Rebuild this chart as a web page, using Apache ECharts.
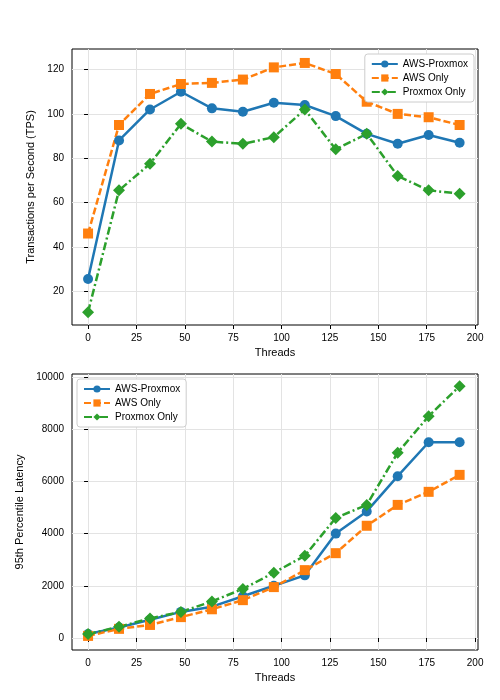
<!DOCTYPE html>
<html>
<head>
<meta charset="utf-8">
<script src="https://cdn.jsdelivr.net/npm/echarts@6/dist/echarts.min.js"></script>
<style>html,body{margin:0;padding:0;background:#fff}#chart{width:500px;height:700px}</style>
</head>
<body>
<div id="chart"></div>
<script>
var threads = [0, 16, 32, 48, 64, 80, 96, 112, 128, 144, 160, 176, 192];

var tpsAwsProxmox = [25.5, 88, 102, 110, 102.5, 101, 105, 104, 99, 91, 86.5, 90.5, 87];
var tpsAwsOnly = [46, 95, 109, 113.5, 114, 115.5, 121, 123, 118, 105.5, 100, 98.5, 95];
var tpsProxmoxOnly = [10.5, 65.5, 77.5, 95.5, 87.5, 86.5, 89.5, 102, 84, 91, 72, 65.5, 64];

var latAwsProxmox = [150, 400, 700, 1000, 1200, 1600, 2000, 2400, 4000, 4850, 6200, 7500, 7500];
var latAwsOnly = [80, 350, 500, 800, 1100, 1450, 1950, 2600, 3250, 4300, 5100, 5600, 6250];
var latProxmoxOnly = [150, 430, 750, 1000, 1400, 1880, 2500, 3150, 4600, 5100, 7100, 8500, 9650];

var xTicks = [0, 25, 50, 75, 100, 125, 150, 175, 200];
var tpsTicks = [20, 40, 60, 80, 100, 120];
var latTicks = [0, 2000, 4000, 6000, 8000, 10000];

var names = ['AWS-Proxmox', 'AWS Only', 'Proxmox Only'];
var colors = ['#1f77b4', '#ff7f0e', '#2ca02c'];
var symbols = ['circle', 'rect', 'diamond'];
var symbolSizes = [10, 10, 12];
var dashes = ['solid', [7, 3], [8, 3, 2, 3]];

function pairs(vals) {
	return threads.map(function (t, i) { return [t, vals[i]]; });
}

function plain(v) { return String(v); }

function xAxisFor(gridIndex) {
	return {
		type: 'value', gridIndex: gridIndex, min: -8.3, max: 201.5,
		name: 'Threads', nameLocation: 'middle', nameGap: 22,
		nameTextStyle: {color: '#000', fontSize: 11},
		axisLine: {show: false},
		axisTick: {show: true, inside: false, length: 4, customValues: xTicks, lineStyle: {color: '#000'}},
		axisLabel: {customValues: xTicks, color: '#000', fontSize: 10, formatter: plain},
		splitLine: {show: true, lineStyle: {color: '#e3e3e3'}}
	};
}

function yAxisFor(gridIndex, min, max, ticks, name, gap) {
	return {
		type: 'value', gridIndex: gridIndex, min: min, max: max,
		name: name, nameLocation: 'middle', nameGap: gap,
		nameTextStyle: {color: '#000', fontSize: 11},
		axisLine: {show: false},
		axisTick: {show: true, inside: false, length: 4, customValues: ticks, lineStyle: {color: '#000'}},
		axisLabel: {customValues: ticks, color: '#000', fontSize: 10, formatter: plain},
		splitLine: {show: true, lineStyle: {color: '#e3e3e3'}}
	};
}

function seriesFor(idx, data, axisIndex) {
	return {
		name: names[idx], type: 'line', xAxisIndex: axisIndex, yAxisIndex: axisIndex,
		data: pairs(data), symbol: symbols[idx], symbolSize: symbolSizes[idx],
		lineStyle: {color: colors[idx], width: 2.5, type: dashes[idx]},
		itemStyle: {color: colors[idx]}
	};
}

var legendBase = {
	orient: 'vertical', itemWidth: 26, itemHeight: 9, itemGap: 4,
	textStyle: {fontSize: 10, color: '#000'},
	borderColor: '#ccc', borderWidth: 1, borderRadius: 3, padding: [5, 6],
	backgroundColor: '#fff', data: names
};

var myChart = echarts.init(document.getElementById('chart'));
myChart.setOption({
	animation: false,
	grid: [
		{left: 72, right: 22, top: 49, height: 276, show: true, borderColor: '#000', borderWidth: 1},
		{left: 72, right: 22, top: 374, height: 276, show: true, borderColor: '#000', borderWidth: 1}
	],
	legend: [
		Object.assign({right: 26, top: 54}, legendBase),
		Object.assign({left: 77, top: 379}, legendBase)
	],
	xAxis: [xAxisFor(0), xAxisFor(1)],
	yAxis: [
		yAxisFor(0, 4.7, 129.3, tpsTicks, 'Transactions per Second (TPS)', 34),
		yAxisFor(1, -460, 10115, latTicks, '95th Percentile Latency', 46)
	],
	series: [
		seriesFor(0, tpsAwsProxmox, 0),
		seriesFor(1, tpsAwsOnly, 0),
		seriesFor(2, tpsProxmoxOnly, 0),
		seriesFor(0, latAwsProxmox, 1),
		seriesFor(1, latAwsOnly, 1),
		seriesFor(2, latProxmoxOnly, 1)
	]
});
</script>
</body>
</html>
